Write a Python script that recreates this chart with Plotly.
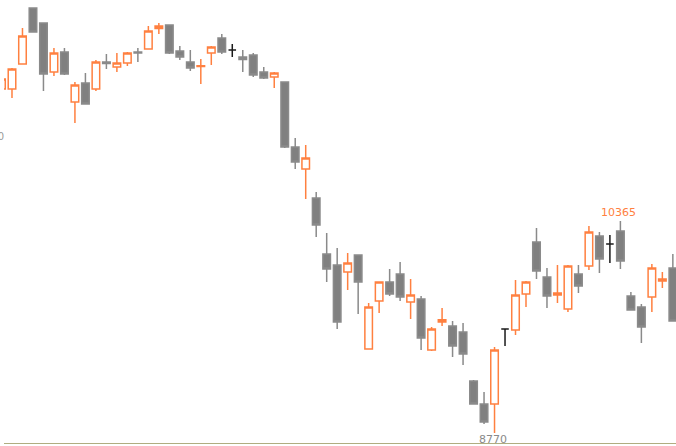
import plotly.graph_objects as go

# ---- data ----
idx = list(range(65))
opens = [11358, 11358, 11546, 11968, 11855, 11486, 11636, 11260, 11403, 11358,
         11561, 11524, 11554, 11636, 11659, 11813, 11840, 11644, 11561, 11527,
         11629, 11742, 11652, 11599, 11614, 11486, 11448, 11411, 10922, 10756,
         10538, 10117, 10034, 9981, 10109, 9402, 9763, 9906, 9966, 9756,
         9778, 9394, 9605, 9575, 9530, 9161, 8988, 8988, 9552, 9545,
         9816, 10207, 9944, 9808, 9703, 9966, 10026, 10252, 10192, 10290,
         9801, 9718, 9793, 9914, 10011]
highs = [11441, 11516, 11817, 11972, 11857, 11667, 11667, 11411, 11478, 11576,
         11621, 11629, 11636, 11667, 11832, 11855, 11842, 11682, 11652, 11584,
         11682, 11772, 11697, 11652, 11629, 11524, 11486, 11413, 10989, 10937,
         10583, 10275, 10162, 10124, 10111, 9748, 9908, 10004, 10057, 9929,
         9801, 9567, 9710, 9613, 9597, 9169, 9078, 9417, 9552, 9921,
         9914, 10312, 10011, 10034, 10034, 10034, 10327, 10282, 10260, 10365,
         9831, 9741, 10041, 9981, 10117]
lows = [11351, 11290, 11544, 11785, 11343, 11456, 11463, 11102, 11243, 11343,
        11509, 11486, 11531, 11561, 11657, 11772, 11621, 11576, 11494, 11396,
        11539, 11621, 11599, 11486, 11448, 11433, 11366, 10914, 10756, 10530,
        10245, 9906, 9552, 9846, 9665, 9400, 9673, 9801, 9763, 9628,
        9394, 9387, 9575, 9342, 9282, 8986, 8838, 8770, 9424, 9507,
        9718, 9929, 9710, 9748, 9680, 9823, 9996, 9974, 10049, 10004,
        9693, 9447, 9680, 9861, 9611]
closes = [11433, 11509, 11757, 11787, 11471, 11629, 11471, 11388, 11245, 11561,
          11550, 11554, 11629, 11629, 11794, 11832, 11629, 11599, 11516, 11533,
          11674, 11636, 11652, 11580, 11463, 11441, 11478, 10922, 10809, 10839,
          10335, 10004, 9605, 10049, 9906, 9718, 9906, 9816, 9793, 9808,
          9485, 9552, 9622, 9424, 9364, 8988, 8853, 9394, 9552, 9808,
          9906, 9989, 9801, 9823, 10026, 9876, 10282, 10079, 10192, 10064,
          9695, 9567, 10011, 9929, 9613]

high_label = "10365"
low_label = "8770"
y_ticks = [11000]
y_tick_text = ["11000"]

UP = "#ff8040"
DOWN_FILL = "#808080"
DOWN_LINE = "#8a8a8a"
DOJI = "#1a1a1a"

norm = [i for i in idx if opens[i] != closes[i]]
doji = [i for i in idx if opens[i] == closes[i]]

def pick(arr, sel):
    return [arr[i] for i in sel]

fig = go.Figure()
fig.add_trace(go.Candlestick(
    x=norm, open=pick(opens, norm), high=pick(highs, norm),
    low=pick(lows, norm), close=pick(closes, norm),
    increasing=dict(line=dict(color=UP, width=1.5), fillcolor="white"),
    decreasing=dict(line=dict(color=DOWN_LINE, width=1.5), fillcolor=DOWN_FILL),
    whiskerwidth=0, showlegend=False, hoverinfo="skip"))
fig.add_trace(go.Candlestick(
    x=doji, open=pick(opens, doji), high=pick(highs, doji),
    low=pick(lows, doji), close=pick(closes, doji),
    increasing=dict(line=dict(color=DOJI, width=1.5), fillcolor=DOJI),
    decreasing=dict(line=dict(color=DOJI, width=1.5), fillcolor=DOJI),
    whiskerwidth=0, showlegend=False, hoverinfo="skip"))

hi_i = highs.index(max(highs[45:]))
lo_i = lows.index(min(lows))
fig.add_annotation(x=hi_i, y=highs[hi_i], text=high_label, showarrow=False,
                   yanchor="bottom", yshift=0, xshift=-2,
                   font=dict(family="DejaVu Sans", size=11, color=UP))
fig.add_annotation(x=lo_i, y=lows[lo_i], text=low_label, showarrow=False,
                   yanchor="top", yshift=2, xshift=-2,
                   font=dict(family="DejaVu Sans", size=11, color="#8a8a8a"))

fig.update_layout(
    width=676, height=446,
    margin=dict(l=4, r=0, t=0, b=3, autoexpand=False),
    paper_bgcolor="white", plot_bgcolor="white",
    boxgap=0.28, boxgroupgap=0,
    showlegend=False,
    xaxis=dict(range=[0.238, 64.30], showgrid=False, zeroline=False,
               showticklabels=False, ticks="", showline=True,
               linecolor="#b0ad80", linewidth=1, automargin=False,
               rangeslider=dict(visible=False)),
    yaxis=dict(range=[8694.7, 12027.7], showgrid=False, zeroline=False,
               tickvals=y_ticks, ticktext=y_tick_text, ticks="", showline=False,
               automargin=False, ticklabelstandoff=-1,
               tickfont=dict(family="DejaVu Sans", size=10, color="#999999")),
)

fig.write_html("out.html", config={"displayModeBar": False},
               post_script="document.body.style.margin='0px';")
